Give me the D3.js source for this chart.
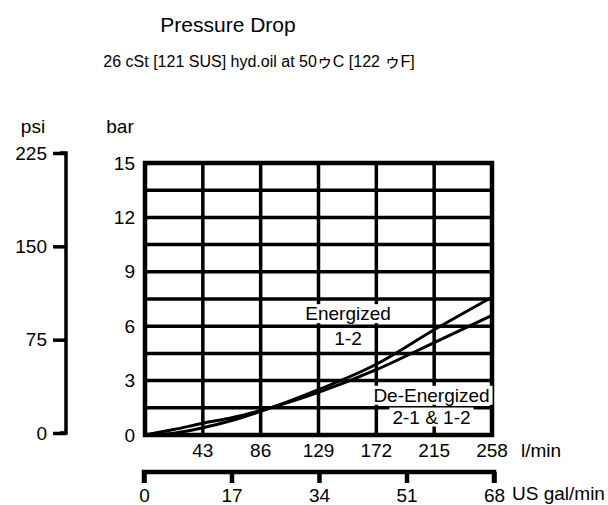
<!DOCTYPE html>
<html lang="en">
<head>
  <meta charset="UTF-8">
  <title>Pressure Drop</title>
  <script src="https://d3js.org/d3.v7.min.js"></script>
  <style>
    body { margin: 0; background: #fff; }
    svg text { font-family: "Liberation Sans", Arial, "Noto Sans CJK JP", sans-serif; fill: #000; }
  </style>
</head>
<body>
<script>
// chart data
var flowTicks = [43, 86, 129, 172, 215, 258];      // l/min
var galTicks = [0, 17, 34, 51, 68];                // US gal/min
var barTicks = [0, 3, 6, 9, 12, 15];
var barGrid = [1.5, 3, 4.5, 6, 7.5, 9, 10.5, 12, 13.5];
var psiTicks = [0, 75, 150, 225];

var flow = [0, 21.5, 43, 64.5, 86, 129, 172, 215, 258];
var energized = [0, 0.1, 0.4, 0.8, 1.3, 2.5, 3.9, 5.8, 7.6];
var deEnergized = [0, 0.3, 0.65, 0.95, 1.35, 2.35, 3.6, 5.1, 6.6];

var width = 608, height = 505;

var svg = d3.select("body").append("svg")
    .attr("width", width)
    .attr("height", height);

var x = d3.scaleLinear().domain([0, 258]).range([145, 492]);
var xg = d3.scaleLinear().domain([0, 68]).range([144, 494]);
var y = d3.scaleLinear().domain([0, 15]).range([435, 163]);
var yp = d3.scaleLinear().domain([0, 225]).range([433, 153]);

// titles
svg.append("text").attr("x", 228).attr("y", 32)
    .attr("text-anchor", "middle").style("font-size", "21px")
    .text("Pressure Drop");
svg.append("text").attr("x", 259).attr("y", 67)
    .attr("text-anchor", "middle").style("font-size", "16px")
    .text("26 cSt [121 SUS] hyd.oil at 50ゥC [122 ゥF]");

// grid
var grid = svg.append("g").attr("stroke", "#000").attr("stroke-width", 3.5);
grid.selectAll("line.h").data(barGrid).enter().append("line")
    .attr("x1", x(0)).attr("x2", x(258))
    .attr("y1", function(d) { return y(d); })
    .attr("y2", function(d) { return y(d); });
grid.selectAll("line.v").data(flowTicks.slice(0, 5)).enter().append("line")
    .attr("y1", y(0)).attr("y2", y(15))
    .attr("x1", function(d) { return x(d); })
    .attr("x2", function(d) { return x(d); });
svg.append("rect")
    .attr("x", x(0)).attr("y", y(15))
    .attr("width", x(258) - x(0)).attr("height", y(0) - y(15))
    .attr("fill", "none").attr("stroke", "#000").attr("stroke-width", 4.5);

// curves
var line = d3.line()
    .x(function(d, i) { return x(flow[i]); })
    .y(function(d) { return y(d); })
    .curve(d3.curveMonotoneX);
[energized, deEnergized].forEach(function(s) {
  svg.append("path").datum(s)
      .attr("d", line)
      .attr("fill", "none")
      .attr("stroke", "#000")
      .attr("stroke-width", 3);
});

// curve labels with white knock-out behind each line
var labels = [
  {t: "Energized", fx: 151, b: 6.7},
  {t: "1-2", fx: 151, b: 5.35},
  {t: "De-Energized", fx: 213, b: 2.2},
  {t: "2-1 & 1-2", fx: 213, b: 1.0}
];
labels.forEach(function(l) {
  var g = svg.append("g");
  var r = g.append("rect").attr("fill", "#fff");
  var t = g.append("text")
      .attr("x", x(l.fx)).attr("y", y(l.b))
      .attr("dy", "0.35em")
      .attr("text-anchor", "middle")
      .style("font-size", "19px")
      .text(l.t);
  var bb = t.node().getBBox();
  r.attr("x", bb.x - 3).attr("y", bb.y + 1)
   .attr("width", bb.width + 6).attr("height", bb.height - 2);
});

// bar axis labels
svg.append("text").attr("x", 120).attr("y", 133)
    .attr("text-anchor", "middle").style("font-size", "19px").text("bar");
svg.selectAll("text.bar").data(barTicks).enter().append("text")
    .attr("x", 135).attr("y", function(d) { return y(d); })
    .attr("dy", "0.35em").attr("text-anchor", "end")
    .style("font-size", "19px")
    .text(function(d) { return d; });

// psi axis
var psiAxis = d3.axisLeft(yp).tickValues(psiTicks).tickSize(13).tickPadding(6);
var pg = svg.append("g").attr("transform", "translate(66,0)").call(psiAxis);
pg.select(".domain").attr("d", "M-6," + yp(225) + "H0V" + yp(0) + "H-6")
    .attr("stroke-width", 3.5);
pg.selectAll(".tick line").attr("stroke-width", 3.5);
pg.selectAll(".tick text").style("font-size", "19px").attr("fill", "#000");
svg.append("text").attr("x", 33).attr("y", 133)
    .attr("text-anchor", "middle").style("font-size", "19px").text("psi");

// l/min tick labels
svg.selectAll("text.flow").data(flowTicks).enter().append("text")
    .attr("x", function(d) { return x(d); }).attr("y", 457)
    .attr("text-anchor", "middle").style("font-size", "19px")
    .text(function(d) { return d; });
svg.append("text").attr("x", 521).attr("y", 457)
    .style("font-size", "19px").text("l/min");

// US gal/min axis
var galAxis = d3.axisBottom(xg).tickValues(galTicks).tickSize(11);
var gg = svg.append("g").attr("transform", "translate(0,472)").call(galAxis);
gg.select(".domain").attr("d", "M" + xg(0) + ",11V0H" + xg(68) + "V11")
    .attr("stroke-width", 4.5);
gg.selectAll(".tick line").attr("stroke-width", 4.5);
gg.selectAll(".tick text").style("font-size", "19px").attr("fill", "#000")
    .attr("y", 17).attr("dy", "0.71em");
svg.append("text").attr("x", 512).attr("y", 500)
    .style("font-size", "19px").text("US gal/min");
</script>
</body>
</html>
